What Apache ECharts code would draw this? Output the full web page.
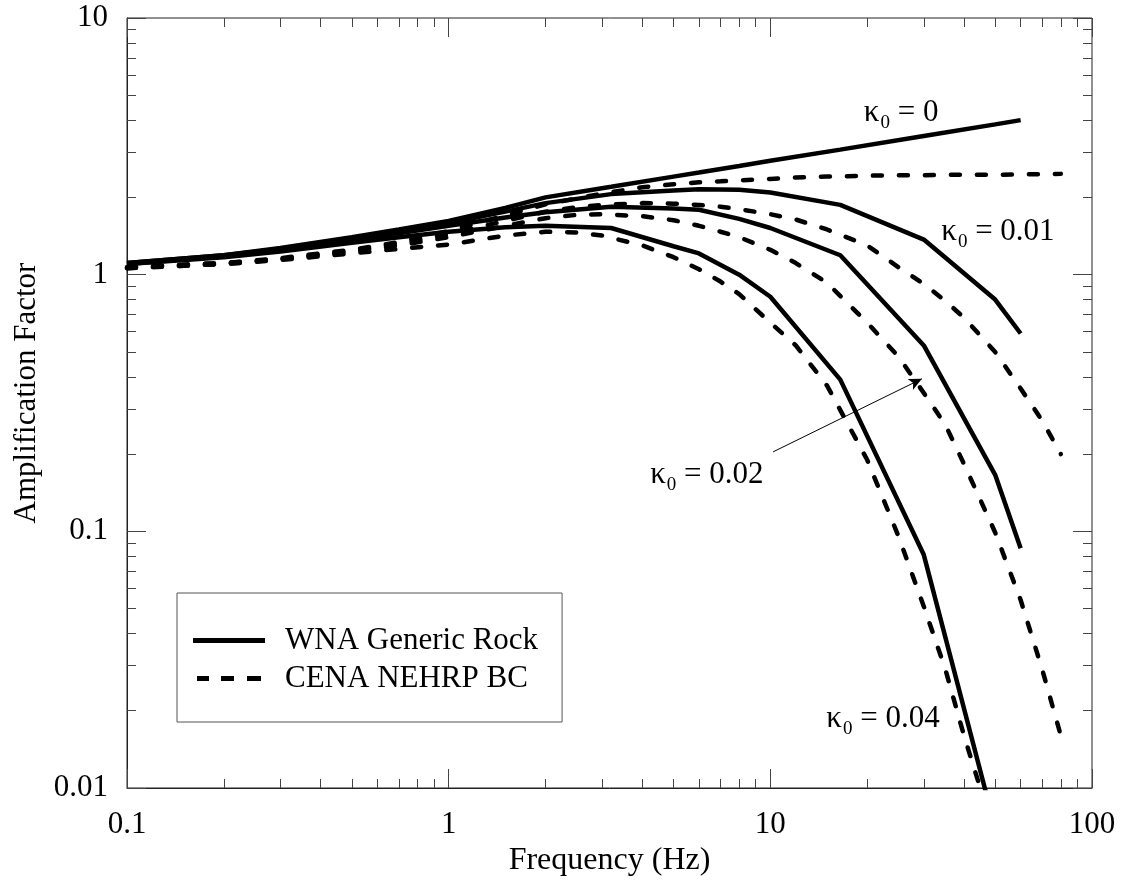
<!DOCTYPE html>
<html>
<head>
<meta charset="utf-8">
<script src="https://cdn.jsdelivr.net/npm/echarts@6/dist/echarts.min.js"></script>
<style>
  html, body { margin: 0; padding: 0; background: #fff; }
  #chart { width: 1122px; height: 886px; }
</style>
</head>
<body>
<div id="chart"></div>
<script>
// WNA generic rock (solid lines), one array per kappa0
const freqWNA = [0.1, 0.2, 0.3, 0.5, 0.7, 1, 1.5, 2, 3.2, 5, 6, 8, 10, 16.5, 30, 50, 60];
const wnaK0   = [1.11, 1.19, 1.27, 1.40, 1.50, 1.62, 1.82, 2.00, 2.20, 2.41, 2.50, 2.65, 2.78, 3.07, 3.47, 3.85, 4.00];
const wnaK001 = [1.11, 1.19, 1.26, 1.39, 1.48, 1.59, 1.76, 1.90, 2.06, 2.13, 2.15, 2.14, 2.09, 1.87, 1.37, 0.80, 0.59];
const wnaK002 = [1.10, 1.18, 1.25, 1.37, 1.45, 1.55, 1.67, 1.75, 1.84, 1.81, 1.79, 1.65, 1.52, 1.19, 0.53, 0.166, 0.086];
const wnaK004 = [1.10, 1.17, 1.23, 1.33, 1.40, 1.47, 1.53, 1.55, 1.52, 1.29, 1.21, 1.00, 0.82, 0.39, 0.081, 0.007, 0.003];

// CENA NEHRP BC (dashed lines)
const freqCENA = [0.1, 0.2, 0.3, 0.5, 0.7, 1, 1.5, 2, 2.5, 3, 4, 5, 6, 7, 8, 10, 12, 15, 20, 25, 30, 35, 40, 50, 60, 70, 80];
const cenaK0   = [1.07, 1.11, 1.16, 1.25, 1.34, 1.48, 1.70, 1.88, 1.98, 2.07, 2.19, 2.25, 2.29, 2.31, 2.33, 2.36, 2.39, 2.41, 2.43, 2.44, 2.44, 2.45, 2.45, 2.45, 2.46, 2.46, 2.47];
const cenaK001 = [1.07, 1.11, 1.15, 1.24, 1.32, 1.44, 1.62, 1.76, 1.83, 1.87, 1.90, 1.89, 1.87, 1.84, 1.80, 1.72, 1.64, 1.50, 1.30, 1.07, 0.92, 0.79, 0.68, 0.50, 0.36, 0.27, 0.20];
const cenaK002 = [1.06, 1.10, 1.15, 1.23, 1.30, 1.40, 1.55, 1.66, 1.71, 1.72, 1.69, 1.63, 1.55, 1.47, 1.40, 1.25, 1.11, 0.93, 0.65, 0.48, 0.346, 0.26, 0.183, 0.099, 0.054, 0.029, 0.016];
const cenaK004 = [1.06, 1.10, 1.14, 1.21, 1.26, 1.31, 1.42, 1.47, 1.46, 1.42, 1.30, 1.17, 1.05, 0.94, 0.84, 0.65, 0.53, 0.37, 0.19, 0.096, 0.051, 0.029, 0.016, 0.0065, 0.003, 0.0015, 0.0008];

const legendNames = ["WNA Generic Rock", "CENA NEHRP BC"];

// kappa0 labels: value text and [freq, amplification] anchor
const kappaLabels = ["0", "0.01", "0.02", "0.04"];
const kappaLabelAt = [[25.5, 4.27], [51, 1.47], [6.35, 0.166], [22.4, 0.0186]];
const arrowFrom = [10.2, 0.204];
const arrowTo = [29.6, 0.393];

// tick positions, in log10 units
const minorX = [];
const minorY = [];
for (let d = -1; d <= 1; d++) for (let k = 2; k <= 9; k++) minorX.push(d + Math.log10(k));
for (let d = -2; d <= 0; d++) for (let k = 2; k <= 9; k++) minorY.push(d + Math.log10(k));
const majorX = [-1, 0, 1, 2];
const majorY = [-2, -1, 0, 1];

const FONT = "'Liberation Serif', 'Times New Roman', serif";
const INK = "#000";
const TICK = "#444";

const chart = echarts.init(document.getElementById("chart"));

const pairs = (fs, vs) => fs.map((f, i) => [f, vs[i]]);

function lineSeries(name, fs, vs, dashed) {
  return {
    type: "line",
    name: name,
    data: pairs(fs, vs),
    xAxisIndex: 0,
    yAxisIndex: 0,
    symbol: "none",
    showSymbol: false,
    silent: true,
    lineStyle: dashed
      ? { color: INK, width: 4.5, type: [9, 17], cap: "round" }
      : { color: INK, width: 4.5, type: "solid" },
    itemStyle: { color: INK },
    emphasis: { disabled: true }
  };
}

const series = [];
[wnaK0, wnaK001, wnaK002, wnaK004].forEach(vs => series.push(lineSeries(legendNames[0], freqWNA, vs, false)));
[cenaK0, cenaK001, cenaK002, cenaK004].forEach(vs => series.push(lineSeries(legendNames[1], freqCENA, vs, true)));

// annotations hang on the first series
series[0].markPoint = {
  silent: true,
  symbol: "circle",
  symbolSize: 1,
  itemStyle: { color: "rgba(0,0,0,0)" },
  label: {
    show: true,
    position: "inside",
    rich: {
      k: { fontFamily: FONT, fontSize: 31, lineHeight: 31, color: INK, verticalAlign: "top" },
      s: { fontFamily: FONT, fontSize: 19, lineHeight: 19, color: INK, verticalAlign: "top", padding: [16, 0, 0, 1] },
      t: { fontFamily: FONT, fontSize: 31, lineHeight: 31, color: INK, verticalAlign: "top" }
    }
  },
  data: kappaLabels.map((txt, i) => ({
    coord: kappaLabelAt[i],
    label: { formatter: "{k|κ}{s|0}{t| = " + txt + "}" }
  }))
};
series[0].markLine = {
  silent: true,
  symbol: ["none", "arrow"],
  symbolSize: [9, 13],
  label: { show: false },
  lineStyle: { color: INK, width: 1, type: "solid" },
  data: [[{ coord: arrowFrom }, { coord: arrowTo }]]
};

// value axes in log10 units, used only to draw the tick marks
function tickAxis(position, values, len, isX) {
  return {
    type: "value",
    position: position,
    offset: 0,
    min: isX ? -1 : -2,
    max: isX ? 2 : 1,
    axisLine: { show: false, onZero: false },
    axisLabel: { show: false },
    splitLine: { show: false },
    axisTick: { show: true, inside: true, length: len, customValues: values, lineStyle: { color: TICK, width: 1 } }
  };
}

const option = {
  animation: false,
  backgroundColor: "#fff",
  textStyle: { fontFamily: FONT },
  grid: {
    left: 127, right: 30, top: 18, bottom: 98,
    show: true, borderColor: "#222", borderWidth: 1,
    containLabel: false, outerBoundsMode: "none"
  },
  legend: {
    show: true,
    orient: "vertical",
    left: 177,
    top: 593,
    padding: [32, 24, 28, 16],
    itemGap: 7,
    itemWidth: 72,
    itemHeight: 5,
    selectedMode: false,
    borderColor: "#555",
    borderWidth: 1,
    textStyle: { fontFamily: FONT, fontSize: 31, lineHeight: 31, color: INK, padding: [0, 0, 0, 15] },
    data: [
      { name: legendNames[0], icon: "path://M0,0h72v5h-72z" },
      { name: legendNames[1], icon: "path://M0,0h12v5h-12z M24,0h13v5h-13z M50,0h14v5h-14z" }
    ]
  },
  xAxis: [
    {
      type: "log",
      min: 0.1,
      max: 100,
      position: "bottom",
      name: "Frequency (Hz)",
      nameLocation: "middle",
      nameGap: 56,
      nameTextStyle: { fontFamily: FONT, fontSize: 32, color: INK },
      axisLine: { show: true, onZero: false, lineStyle: { color: "#222", width: 1 } },
      axisTick: { show: true, inside: true, length: 19, lineStyle: { color: TICK, width: 1 } },
      axisLabel: { fontFamily: FONT, fontSize: 31, color: INK, margin: 21 },
      splitLine: { show: false },
      minorTick: { show: false }
    },
    tickAxis("bottom", minorX, 9, true),
    tickAxis("top", majorX, 19, true),
    tickAxis("top", minorX, 9, true)
  ],
  yAxis: [
    {
      type: "log",
      min: 0.01,
      max: 10,
      position: "left",
      name: "Amplification Factor",
      nameLocation: "middle",
      nameRotate: 90,
      nameGap: 82,
      nameTextStyle: { fontFamily: FONT, fontSize: 31, color: INK, padding: [0, 0, 0, 20] },
      axisLine: { show: true, onZero: false, lineStyle: { color: "#222", width: 1 } },
      axisTick: { show: true, inside: true, length: 19, lineStyle: { color: TICK, width: 1 } },
      axisLabel: { fontFamily: FONT, fontSize: 31, color: INK, margin: 19 },
      splitLine: { show: false },
      minorTick: { show: false }
    },
    tickAxis("left", minorY, 9, false),
    tickAxis("right", majorY, 19, false),
    tickAxis("right", minorY, 9, false)
  ],
  series: series
};

chart.setOption(option);
</script>
</body>
</html>
